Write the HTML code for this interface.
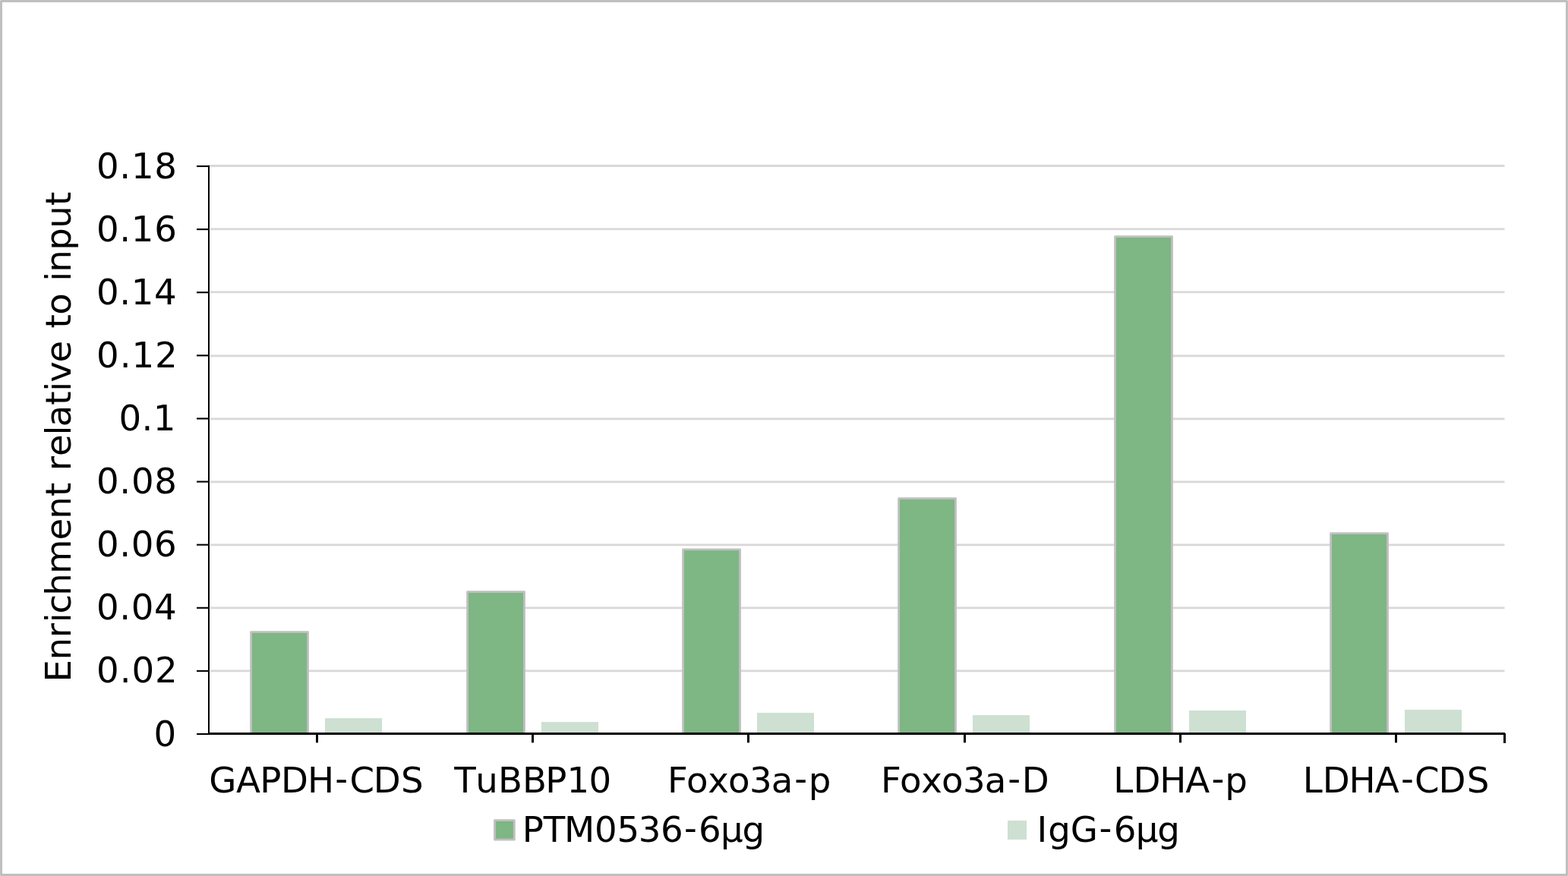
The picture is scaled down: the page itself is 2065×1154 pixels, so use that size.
<!DOCTYPE html>
<html lang="en"><head><meta charset="utf-8"><title>ChIP-qPCR enrichment chart</title>
<style>html,body{margin:0;padding:0;background:#fff;}body{width:2065px;height:1154px;overflow:hidden;}svg{display:block;}text{font-family:"DejaVu Sans","Liberation Sans",sans-serif;font-size:46.67px;fill:#000;white-space:pre;}</style></head><body>
<svg width="2065" height="1154" viewBox="0 0 2065 1154" role="img" aria-label="Bar chart: enrichment relative to input">
<rect x="1.5" y="1.5" width="2062" height="1151" fill="#fff" stroke="#bfbfbf" stroke-width="3" stroke-linejoin="round"/>
<rect x="275.00" y="217.00" width="1706.50" height="3.00" fill="#d9d9d9"/>
<rect x="276.60" y="300.40" width="1704.90" height="2.80" fill="#d9d9d9"/>
<rect x="276.60" y="383.40" width="1704.90" height="2.80" fill="#d9d9d9"/>
<rect x="276.60" y="467.40" width="1704.90" height="2.85" fill="#d9d9d9"/>
<rect x="276.60" y="550.40" width="1704.90" height="2.85" fill="#d9d9d9"/>
<rect x="276.60" y="633.40" width="1704.90" height="2.85" fill="#d9d9d9"/>
<rect x="276.60" y="716.40" width="1704.90" height="2.85" fill="#d9d9d9"/>
<rect x="276.60" y="799.40" width="1704.90" height="2.85" fill="#d9d9d9"/>
<rect x="276.60" y="882.40" width="1704.90" height="2.85" fill="#d9d9d9"/>
<rect x="330.60" y="832.70" width="74.90" height="133.80" fill="#7eb684" stroke="#bfbfbf" stroke-width="2.8" stroke-linejoin="round"/>
<rect x="428.00" y="946.10" width="75" height="20.40" fill="#cde0d2"/>
<rect x="615.60" y="779.70" width="74.90" height="186.80" fill="#7eb684" stroke="#bfbfbf" stroke-width="2.8" stroke-linejoin="round"/>
<rect x="713.00" y="951.10" width="75" height="15.40" fill="#cde0d2"/>
<rect x="899.60" y="723.80" width="74.90" height="242.70" fill="#7eb684" stroke="#bfbfbf" stroke-width="2.8" stroke-linejoin="round"/>
<rect x="997.00" y="939.10" width="75" height="27.40" fill="#cde0d2"/>
<rect x="1183.60" y="656.70" width="74.90" height="309.80" fill="#7eb684" stroke="#bfbfbf" stroke-width="2.8" stroke-linejoin="round"/>
<rect x="1281.00" y="942.10" width="75" height="24.40" fill="#cde0d2"/>
<rect x="1468.60" y="311.60" width="74.90" height="654.90" fill="#7eb684" stroke="#bfbfbf" stroke-width="2.8" stroke-linejoin="round"/>
<rect x="1566.00" y="936.00" width="75" height="30.50" fill="#cde0d2"/>
<rect x="1752.60" y="702.70" width="74.90" height="263.80" fill="#7eb684" stroke="#bfbfbf" stroke-width="2.8" stroke-linejoin="round"/>
<rect x="1850.00" y="935.00" width="75" height="31.50" fill="#cde0d2"/>
<rect x="274" y="217.8" width="2" height="750" fill="#000"/>
<path d="M274 966.5H1981.5V979" fill="none" stroke="#000" stroke-width="3" stroke-linejoin="bevel"/>
<rect x="259" y="217.95" width="16" height="2.1" fill="#000"/>
<rect x="259" y="301.06" width="16" height="2.1" fill="#000"/>
<rect x="259" y="384.17" width="16" height="2.1" fill="#000"/>
<rect x="259" y="467.28" width="16" height="2.1" fill="#000"/>
<rect x="259" y="550.39" width="16" height="2.1" fill="#000"/>
<rect x="259" y="633.51" width="16" height="2.1" fill="#000"/>
<rect x="259" y="716.62" width="16" height="2.1" fill="#000"/>
<rect x="259" y="799.73" width="16" height="2.1" fill="#000"/>
<rect x="259" y="882.84" width="16" height="2.1" fill="#000"/>
<rect x="259" y="965.95" width="16" height="2.1" fill="#000"/>
<rect x="416.0" y="966" width="3" height="12.4" fill="#000"/>
<rect x="700.0" y="966" width="3" height="12.4" fill="#000"/>
<rect x="984.0" y="966" width="3" height="12.4" fill="#000"/>
<rect x="1269.0" y="966" width="3" height="12.4" fill="#000"/>
<rect x="1553.0" y="966" width="3" height="12.4" fill="#000"/>
<rect x="1837.0" y="966" width="3" height="12.4" fill="#000"/>
<rect x="651.5" y="1080.6" width="25.8" height="25.6" fill="#7eb684" stroke="#bfbfbf" stroke-width="2.8" stroke-linejoin="round"/>
<rect x="1327" y="1081" width="25" height="25" fill="#cde0d2"/>
<text transform="translate(127.000,234.600)" style="letter-spacing:0.6833px">0.18</text>
<text transform="translate(127.000,317.711)" style="letter-spacing:0.6667px">0.16</text>
<text transform="translate(127.000,400.822)" style="letter-spacing:0.6167px">0.14</text>
<text transform="translate(127.000,483.933)" style="letter-spacing:0.9500px">0.12</text>
<text transform="translate(156.400,567.044)" style="letter-spacing:0.3750px">0.1</text>
<text transform="translate(127.000,650.156)" style="letter-spacing:0.6833px">0.08</text>
<text transform="translate(127.000,733.267)" style="letter-spacing:0.6000px">0.06</text>
<text transform="translate(127.000,816.378)" style="letter-spacing:0.6167px">0.04</text>
<text transform="translate(127.000,899.489)" style="letter-spacing:0.9500px">0.02</text>
<text transform="translate(202.400,982.600)" style="letter-spacing:0.0000px">0</text>
<text transform="translate(0,1043.80)" x="275.27 311.00 342.14 370.07 404.95 441.18 460.46 491.87 528.10" y="0.0 0.0 0.0 0.0 0.0 -2.2 0.0 0.0 0.0">GAPDH-CDS</text>
<text transform="translate(0,1043.80)" x="598.30 626.30 655.95 687.95 718.34 746.44 775.51">TuBBP10</text>
<text transform="translate(0,1043.80)" x="878.89 904.01 932.18 959.01 986.99 1015.67 1046.28 1064.84" y="0.0 0.0 0.0 0.0 0.0 0.0 -2.2 0.0">Foxo3a-p</text>
<text transform="translate(0,1043.80)" x="1159.89 1185.01 1213.18 1240.01 1268.09 1296.67 1327.28 1345.87" y="0.0 0.0 0.0 0.0 0.0 0.0 -2.2 0.0">Foxo3a-D</text>
<text transform="translate(0,1043.80)" x="1466.33 1492.62 1527.30 1561.25 1595.58 1613.14" y="0.0 0.0 0.0 0.0 -2.2 0.0">LDHA-p</text>
<text transform="translate(0,1043.80)" x="1715.68 1741.72 1776.50 1810.70 1844.88 1863.01 1894.52 1931.80" y="0.0 0.0 0.0 0.0 -2.2 0.0 0.0 0.0">LDHA-CDS</text>
<text transform="translate(0,1109.20)" x="687.69 715.75 743.11 783.11 812.39 840.64 869.89 900.88 919.99 948.93 977.57" y="0.0 0.0 0.0 0.0 0.0 0.0 0.0 -2.2 0.0 0.0 0.0">PTM0536-6µg</text>
<text transform="translate(0,1109.20)" x="1365.47 1380.17 1409.87 1447.58 1466.69 1495.63 1524.32" y="0.0 0.0 0.0 -2.2 0.0 0.0 0.0">IgG-6µg</text>
<text transform="translate(93.40,0) rotate(-90)" x="-898.49 -869.48 -840.24 -820.19 -808.57 -784.73 -755.92 -711.45 -683.73 -654.07 -635.77 -620.26 -601.00 -573.59 -562.13 -533.72 -515.64 -503.76 -477.40 -448.69 -432.42 -414.69 -386.13 -370.74 -358.73 -329.86 -300.75 -271.12">Enrichment relative to input</text>
</svg></body></html>
